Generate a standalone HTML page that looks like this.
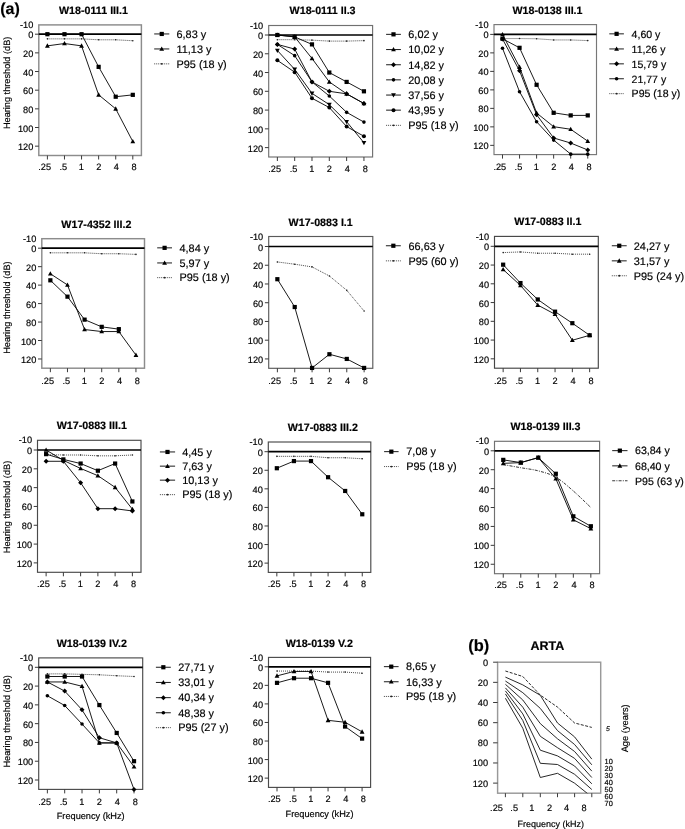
<!DOCTYPE html>
<html><head><meta charset="utf-8"><style>
html,body{margin:0;padding:0;background:#fff;}
body{width:685px;height:829px;overflow:hidden;}
svg{display:block;font-family:"Liberation Sans", sans-serif;will-change:transform;text-rendering:geometricPrecision;}
text{stroke:#000;stroke-width:0.18px;}
</style></head><body>
<svg width="685" height="829" viewBox="0 0 685 829" fill="#000">
<text x="93.5" y="14" text-anchor="middle" font-weight="bold" font-size="10.7">W18-0111 III.1</text>
<rect x="38.8" y="24.9" width="102.6" height="130.6" fill="none" stroke="#8c8c8c" stroke-width="1.45"/>
<path d="M35 34.2H38.8M35 52.86H38.8M35 71.52H38.8M35 90.18H38.8M35 108.85H38.8M35 127.51H38.8M35 146.17H38.8M47.4 155.5V159.5M64.48 155.5V159.5M81.56 155.5V159.5M98.64 155.5V159.5M115.72 155.5V159.5M132.8 155.5V159.5" stroke="#3a3a3a" stroke-width="1" fill="none"/>
<text x="33.3" y="28" text-anchor="end" font-size="9.2">-10</text>
<text x="33.3" y="38.2" text-anchor="end" font-size="9.2">0</text>
<text x="33.3" y="56.86" text-anchor="end" font-size="9.2">20</text>
<text x="33.3" y="75.52" text-anchor="end" font-size="9.2">40</text>
<text x="33.3" y="94.18" text-anchor="end" font-size="9.2">60</text>
<text x="33.3" y="112.85" text-anchor="end" font-size="9.2">80</text>
<text x="33.3" y="131.51" text-anchor="end" font-size="9.2">100</text>
<text x="33.3" y="150.17" text-anchor="end" font-size="9.2">120</text>
<text x="44.7" y="170" text-anchor="middle" font-size="9.2">.25</text>
<text x="63.38" y="170" text-anchor="middle" font-size="9.2">.5</text>
<text x="81.36" y="170" text-anchor="middle" font-size="9.2">1</text>
<text x="98.69" y="170" text-anchor="middle" font-size="9.2">2</text>
<text x="116.42" y="170" text-anchor="middle" font-size="9.2">4</text>
<text x="134.1" y="170" text-anchor="middle" font-size="9.2">8</text>
<path d="M38.8 34.2H141.4" stroke="#000" stroke-width="1.7"/>
<polyline points="47.4,38.87 64.48,38.87 81.56,38.87 98.64,39.8 115.72,39.8 132.8,40.73" fill="none" stroke="#333" stroke-width="0.9" stroke-dasharray="1 1"/>
<g fill="#222"><circle cx="47.4" cy="38.87" r="0.8"/><circle cx="64.48" cy="38.87" r="0.8"/><circle cx="81.56" cy="38.87" r="0.8"/><circle cx="98.64" cy="39.8" r="0.8"/><circle cx="115.72" cy="39.8" r="0.8"/><circle cx="132.8" cy="40.73" r="0.8"/></g>
<polyline points="47.4,34.2 64.48,34.2 81.56,34.2 98.64,66.86 115.72,96.72 132.8,94.85" fill="none" stroke="#000" stroke-width="0.9"/>
<g><rect x="45.3" y="32.1" width="4.2" height="4.2"/><rect x="62.38" y="32.1" width="4.2" height="4.2"/><rect x="79.46" y="32.1" width="4.2" height="4.2"/><rect x="96.54" y="64.76" width="4.2" height="4.2"/><rect x="113.62" y="94.62" width="4.2" height="4.2"/><rect x="130.7" y="92.75" width="4.2" height="4.2"/></g>
<polyline points="47.4,45.86 64.48,43.53 81.56,45.86 98.64,94.85 115.72,108.85 132.8,141.5" fill="none" stroke="#000" stroke-width="0.9"/>
<g><path d="M47.4 43.34L49.8 47.66L45 47.66Z"/><path d="M64.48 41.01L66.88 45.33L62.08 45.33Z"/><path d="M81.56 43.34L83.96 47.66L79.16 47.66Z"/><path d="M98.64 92.33L101.04 96.65L96.24 96.65Z"/><path d="M115.72 106.33L118.12 110.65L113.32 110.65Z"/><path d="M132.8 138.98L135.2 143.3L130.4 143.3Z"/></g>
<path d="M154.2 33.95H169.3" stroke="#000" stroke-width="0.9"/>
<rect x="159.65" y="31.85" width="4.2" height="4.2"/>
<text x="176.5" y="37.75" font-size="10.9">6,83 y</text>
<path d="M154.2 48.95H169.3" stroke="#000" stroke-width="0.9"/>
<path d="M161.75 46.43L164.15 50.75L159.35 50.75Z"/>
<text x="176.5" y="52.75" font-size="10.9">11,13 y</text>
<path d="M154.2 63.85H169.3" stroke="#333" stroke-width="0.9" stroke-dasharray="1 1"/>
<circle cx="161.75" cy="63.85" r="0.9" fill="#222"/>
<text x="176.5" y="67.65" font-size="10.9">P95 (18 y)</text>
<text transform="translate(10.3 82.9) rotate(-90)" text-anchor="middle" font-size="9.2">Hearing threshold (dB)</text>
<text x="322.6" y="14.2" text-anchor="middle" font-weight="bold" font-size="10.7">W18-0111 II.3</text>
<rect x="268.7" y="25.5" width="103.9" height="131.5" fill="none" stroke="#707070" stroke-width="1.15"/>
<path d="M264.9 35H268.7M264.9 53.77H268.7M264.9 72.54H268.7M264.9 91.31H268.7M264.9 110.08H268.7M264.9 128.85H268.7M264.9 147.62H268.7M277.36 157V161M294.68 157V161M311.99 157V161M329.31 157V161M346.63 157V161M363.94 157V161" stroke="#3a3a3a" stroke-width="1" fill="none"/>
<text x="263.2" y="28.6" text-anchor="end" font-size="9.2">-10</text>
<text x="263.2" y="39" text-anchor="end" font-size="9.2">0</text>
<text x="263.2" y="57.77" text-anchor="end" font-size="9.2">20</text>
<text x="263.2" y="76.54" text-anchor="end" font-size="9.2">40</text>
<text x="263.2" y="95.31" text-anchor="end" font-size="9.2">60</text>
<text x="263.2" y="114.08" text-anchor="end" font-size="9.2">80</text>
<text x="263.2" y="132.85" text-anchor="end" font-size="9.2">100</text>
<text x="263.2" y="151.62" text-anchor="end" font-size="9.2">120</text>
<text x="274.66" y="172" text-anchor="middle" font-size="9.2">.25</text>
<text x="293.57" y="172" text-anchor="middle" font-size="9.2">.5</text>
<text x="311.79" y="172" text-anchor="middle" font-size="9.2">1</text>
<text x="329.36" y="172" text-anchor="middle" font-size="9.2">2</text>
<text x="347.33" y="172" text-anchor="middle" font-size="9.2">4</text>
<text x="365.24" y="172" text-anchor="middle" font-size="9.2">8</text>
<path d="M268.7 35H372.6" stroke="#000" stroke-width="1.7"/>
<polyline points="277.36,39.69 294.68,39.69 311.99,40.16 329.31,41.1 346.63,41.1 363.94,40.63" fill="none" stroke="#333" stroke-width="0.9" stroke-dasharray="1 1"/>
<g fill="#222"><circle cx="277.36" cy="39.69" r="0.8"/><circle cx="294.68" cy="39.69" r="0.8"/><circle cx="311.99" cy="40.16" r="0.8"/><circle cx="329.31" cy="41.1" r="0.8"/><circle cx="346.63" cy="41.1" r="0.8"/><circle cx="363.94" cy="40.63" r="0.8"/></g>
<polyline points="277.36,35 294.68,36.88 311.99,44.38 329.31,72.54 346.63,81.92 363.94,91.31" fill="none" stroke="#000" stroke-width="0.9"/>
<g><rect x="275.26" y="32.9" width="4.2" height="4.2"/><rect x="292.57" y="34.78" width="4.2" height="4.2"/><rect x="309.89" y="42.28" width="4.2" height="4.2"/><rect x="327.21" y="70.44" width="4.2" height="4.2"/><rect x="344.53" y="79.82" width="4.2" height="4.2"/><rect x="361.84" y="89.21" width="4.2" height="4.2"/></g>
<polyline points="277.36,35 294.68,36.88 311.99,58.46 329.31,81.92 346.63,93.84 363.94,103.51" fill="none" stroke="#000" stroke-width="0.9"/>
<g><path d="M277.36 32.48L279.76 36.8L274.96 36.8Z"/><path d="M294.68 34.36L297.07 38.68L292.28 38.68Z"/><path d="M311.99 55.94L314.39 60.26L309.59 60.26Z"/><path d="M329.31 79.4L331.71 83.72L326.91 83.72Z"/><path d="M346.63 91.32L349.03 95.64L344.23 95.64Z"/><path d="M363.94 100.99L366.34 105.31L361.54 105.31Z"/></g>
<polyline points="277.36,44.38 294.68,49.08 311.99,81.92 329.31,91.31 346.63,93.84 363.94,103.51" fill="none" stroke="#000" stroke-width="0.9"/>
<g><path d="M277.36 41.88L279.86 44.38L277.36 46.88L274.86 44.38Z"/><path d="M294.68 46.58L297.18 49.08L294.68 51.58L292.18 49.08Z"/><path d="M311.99 79.42L314.49 81.92L311.99 84.42L309.49 81.92Z"/><path d="M329.31 88.81L331.81 91.31L329.31 93.81L326.81 91.31Z"/><path d="M346.63 91.34L349.13 93.84L346.63 96.34L344.13 93.84Z"/><path d="M363.94 101.01L366.44 103.51L363.94 106.01L361.44 103.51Z"/></g>
<polyline points="277.36,44.38 294.68,55.65 311.99,81.92 329.31,96 346.63,112.33 363.94,122.09" fill="none" stroke="#000" stroke-width="0.9"/>
<g><circle cx="277.36" cy="44.38" r="1.8"/><circle cx="294.68" cy="55.65" r="1.8"/><circle cx="311.99" cy="81.92" r="1.8"/><circle cx="329.31" cy="96" r="1.8"/><circle cx="346.63" cy="112.33" r="1.8"/><circle cx="363.94" cy="122.09" r="1.8"/></g>
<polyline points="277.36,50.48 294.68,69.35 311.99,93.37 329.31,104.63 346.63,121.71 363.94,142.74" fill="none" stroke="#000" stroke-width="0.9"/>
<g><path d="M277.36 53L279.76 48.68L274.96 48.68Z"/><path d="M294.68 71.87L297.07 67.55L292.28 67.55Z"/><path d="M311.99 95.89L314.39 91.57L309.59 91.57Z"/><path d="M329.31 107.15L331.71 102.83L326.91 102.83Z"/><path d="M346.63 124.23L349.03 119.91L344.23 119.91Z"/><path d="M363.94 145.26L366.34 140.94L361.54 140.94Z"/></g>
<polyline points="277.36,60.34 294.68,72.16 311.99,98.25 329.31,107.54 346.63,126.59 363.94,136.26" fill="none" stroke="#000" stroke-width="0.9"/>
<g><circle cx="277.36" cy="60.34" r="2"/><circle cx="294.68" cy="72.16" r="2"/><circle cx="311.99" cy="98.25" r="2"/><circle cx="329.31" cy="107.54" r="2"/><circle cx="346.63" cy="126.59" r="2"/><circle cx="363.94" cy="136.26" r="2"/></g>
<path d="M386.1 34.35H400.9" stroke="#000" stroke-width="0.9"/>
<rect x="391.4" y="32.25" width="4.2" height="4.2"/>
<text x="408.3" y="38.15" font-size="10.9">6,02 y</text>
<path d="M386.1 49.55H400.9" stroke="#000" stroke-width="0.9"/>
<path d="M393.5 47.03L395.9 51.35L391.1 51.35Z"/>
<text x="408.3" y="53.35" font-size="10.9">10,02 y</text>
<path d="M386.1 64.75H400.9" stroke="#000" stroke-width="0.9"/>
<path d="M393.5 62.25L396 64.75L393.5 67.25L391 64.75Z"/>
<text x="408.3" y="68.55" font-size="10.9">14,82 y</text>
<path d="M386.1 79.85H400.9" stroke="#000" stroke-width="0.9"/>
<circle cx="393.5" cy="79.85" r="1.8"/>
<text x="408.3" y="83.65" font-size="10.9">20,08 y</text>
<path d="M386.1 95.05H400.9" stroke="#000" stroke-width="0.9"/>
<path d="M393.5 97.57L395.9 93.25L391.1 93.25Z"/>
<text x="408.3" y="98.85" font-size="10.9">37,56 y</text>
<path d="M386.1 110.15H400.9" stroke="#000" stroke-width="0.9"/>
<circle cx="393.5" cy="110.15" r="2"/>
<text x="408.3" y="113.95" font-size="10.9">43,95 y</text>
<path d="M386.1 125.35H400.9" stroke="#333" stroke-width="0.9" stroke-dasharray="1 1"/>
<circle cx="393.5" cy="125.35" r="0.9" fill="#222"/>
<text x="408.3" y="129.15" font-size="10.9">P95 (18 y)</text>
<text x="547.5" y="13.8" text-anchor="middle" font-weight="bold" font-size="10.7">W18-0138 III.1</text>
<rect x="494" y="24.6" width="102.5" height="130" fill="none" stroke="#777777" stroke-width="1.15"/>
<path d="M490.2 34.4H494M490.2 52.89H494M490.2 71.38H494M490.2 89.88H494M490.2 108.37H494M490.2 126.86H494M490.2 145.35H494M502.5 154.6V158.6M519.55 154.6V158.6M536.6 154.6V158.6M553.65 154.6V158.6M570.7 154.6V158.6M587.75 154.6V158.6" stroke="#3a3a3a" stroke-width="1" fill="none"/>
<text x="488.5" y="27.7" text-anchor="end" font-size="9.2">-10</text>
<text x="488.5" y="38.4" text-anchor="end" font-size="9.2">0</text>
<text x="488.5" y="56.89" text-anchor="end" font-size="9.2">20</text>
<text x="488.5" y="75.38" text-anchor="end" font-size="9.2">40</text>
<text x="488.5" y="93.88" text-anchor="end" font-size="9.2">60</text>
<text x="488.5" y="112.37" text-anchor="end" font-size="9.2">80</text>
<text x="488.5" y="130.86" text-anchor="end" font-size="9.2">100</text>
<text x="488.5" y="149.35" text-anchor="end" font-size="9.2">120</text>
<text x="499.8" y="169.8" text-anchor="middle" font-size="9.2">.25</text>
<text x="518.45" y="169.8" text-anchor="middle" font-size="9.2">.5</text>
<text x="536.4" y="169.8" text-anchor="middle" font-size="9.2">1</text>
<text x="553.7" y="169.8" text-anchor="middle" font-size="9.2">2</text>
<text x="571.4" y="169.8" text-anchor="middle" font-size="9.2">4</text>
<text x="589.05" y="169.8" text-anchor="middle" font-size="9.2">8</text>
<path d="M494 34.4H596.5" stroke="#000" stroke-width="1.7"/>
<polyline points="502.5,38.56 519.55,38.56 536.6,38.75 553.65,39.95 570.7,39.95 587.75,40.59" fill="none" stroke="#333" stroke-width="0.9" stroke-dasharray="1 1"/>
<g fill="#222"><circle cx="502.5" cy="38.56" r="0.8"/><circle cx="519.55" cy="38.56" r="0.8"/><circle cx="536.6" cy="38.75" r="0.8"/><circle cx="553.65" cy="39.95" r="0.8"/><circle cx="570.7" cy="39.95" r="0.8"/><circle cx="587.75" cy="40.59" r="0.8"/></g>
<polyline points="502.5,38.75 519.55,47.81 536.6,84.79 553.65,112.81 570.7,115.4 587.75,115.4" fill="none" stroke="#000" stroke-width="0.9"/>
<g><rect x="500.4" y="36.65" width="4.2" height="4.2"/><rect x="517.45" y="45.71" width="4.2" height="4.2"/><rect x="534.5" y="82.69" width="4.2" height="4.2"/><rect x="551.55" y="110.71" width="4.2" height="4.2"/><rect x="568.6" y="113.3" width="4.2" height="4.2"/><rect x="585.65" y="113.3" width="4.2" height="4.2"/></g>
<polyline points="502.5,34.4 519.55,67.13 536.6,112.99 553.65,126.68 570.7,129.27 587.75,141.19" fill="none" stroke="#000" stroke-width="0.9"/>
<g><path d="M502.5 31.88L504.9 36.2L500.1 36.2Z"/><path d="M519.55 64.61L521.95 68.93L517.15 68.93Z"/><path d="M536.6 110.47L539 114.79L534.2 114.79Z"/><path d="M553.65 124.16L556.05 128.48L551.25 128.48Z"/><path d="M570.7 126.75L573.1 131.07L568.3 131.07Z"/><path d="M587.75 138.67L590.15 142.99L585.35 142.99Z"/></g>
<polyline points="502.5,39.02 519.55,70.83 536.6,114.66 553.65,137.96 570.7,143.04 587.75,149.98" fill="none" stroke="#000" stroke-width="0.9"/>
<g><path d="M502.5 36.52L505 39.02L502.5 41.52L500 39.02Z"/><path d="M519.55 68.33L522.05 70.83L519.55 73.33L517.05 70.83Z"/><path d="M536.6 112.16L539.1 114.66L536.6 117.16L534.1 114.66Z"/><path d="M553.65 135.46L556.15 137.96L553.65 140.46L551.15 137.96Z"/><path d="M570.7 140.54L573.2 143.04L570.7 145.54L568.2 143.04Z"/><path d="M587.75 147.48L590.25 149.98L587.75 152.48L585.25 149.98Z"/></g>
<polyline points="502.5,48.27 519.55,91.73 536.6,121.78 553.65,140.08 570.7,154.14 587.75,154.14" fill="none" stroke="#000" stroke-width="0.9"/>
<g><circle cx="502.5" cy="48.27" r="1.8"/><circle cx="519.55" cy="91.73" r="1.8"/><circle cx="536.6" cy="121.78" r="1.8"/><circle cx="553.65" cy="140.08" r="1.8"/><circle cx="570.7" cy="154.14" r="1.8"/><circle cx="587.75" cy="154.14" r="1.8"/></g>
<path d="M609.3 33.85H623.9" stroke="#000" stroke-width="0.9"/>
<rect x="614.5" y="31.75" width="4.2" height="4.2"/>
<text x="631.6" y="37.65" font-size="10.55">4,60 y</text>
<path d="M609.3 48.95H623.9" stroke="#000" stroke-width="0.9"/>
<path d="M616.6 46.43L619 50.75L614.2 50.75Z"/>
<text x="631.6" y="52.75" font-size="10.55">11,26 y</text>
<path d="M609.3 63.85H623.9" stroke="#000" stroke-width="0.9"/>
<path d="M616.6 61.35L619.1 63.85L616.6 66.35L614.1 63.85Z"/>
<text x="631.6" y="67.65" font-size="10.55">15,79 y</text>
<path d="M609.3 78.75H623.9" stroke="#000" stroke-width="0.9"/>
<circle cx="616.6" cy="78.75" r="1.8"/>
<text x="631.6" y="82.55" font-size="10.55">21,77 y</text>
<path d="M609.3 93.65H623.9" stroke="#333" stroke-width="0.9" stroke-dasharray="1 1"/>
<circle cx="616.6" cy="93.65" r="0.9" fill="#222"/>
<text x="631.6" y="97.45" font-size="10.55">P95 (18 y)</text>
<text x="96.4" y="228.2" text-anchor="middle" font-weight="bold" font-size="10.7">W17-4352 III.2</text>
<rect x="41.8" y="238.7" width="102.7" height="129.5" fill="none" stroke="#8c8c8c" stroke-width="1.45"/>
<path d="M38 248.2H41.8M38 266.66H41.8M38 285.12H41.8M38 303.58H41.8M38 322.05H41.8M38 340.51H41.8M38 358.97H41.8M50.36 368.2V372.2M67.47 368.2V372.2M84.59 368.2V372.2M101.71 368.2V372.2M118.83 368.2V372.2M135.94 368.2V372.2" stroke="#3a3a3a" stroke-width="1" fill="none"/>
<text x="36.3" y="241.8" text-anchor="end" font-size="9.2">-10</text>
<text x="36.3" y="252.2" text-anchor="end" font-size="9.2">0</text>
<text x="36.3" y="270.66" text-anchor="end" font-size="9.2">20</text>
<text x="36.3" y="289.12" text-anchor="end" font-size="9.2">40</text>
<text x="36.3" y="307.58" text-anchor="end" font-size="9.2">60</text>
<text x="36.3" y="326.05" text-anchor="end" font-size="9.2">80</text>
<text x="36.3" y="344.51" text-anchor="end" font-size="9.2">100</text>
<text x="36.3" y="362.97" text-anchor="end" font-size="9.2">120</text>
<text x="47.66" y="383.7" text-anchor="middle" font-size="9.2">.25</text>
<text x="66.38" y="383.7" text-anchor="middle" font-size="9.2">.5</text>
<text x="84.39" y="383.7" text-anchor="middle" font-size="9.2">1</text>
<text x="101.76" y="383.7" text-anchor="middle" font-size="9.2">2</text>
<text x="119.53" y="383.7" text-anchor="middle" font-size="9.2">4</text>
<text x="137.24" y="383.7" text-anchor="middle" font-size="9.2">8</text>
<path d="M41.8 248.2H144.5" stroke="#000" stroke-width="1.7"/>
<polyline points="50.36,252.82 67.47,252.82 84.59,252.82 101.71,253.74 118.83,253.74 135.94,254.38" fill="none" stroke="#333" stroke-width="0.9" stroke-dasharray="1 1"/>
<g fill="#222"><circle cx="50.36" cy="252.82" r="0.8"/><circle cx="67.47" cy="252.82" r="0.8"/><circle cx="84.59" cy="252.82" r="0.8"/><circle cx="101.71" cy="253.74" r="0.8"/><circle cx="118.83" cy="253.74" r="0.8"/><circle cx="135.94" cy="254.38" r="0.8"/></g>
<polyline points="50.36,280.32 67.47,296.66 84.59,319.65 101.71,326.85 118.83,329.15" fill="none" stroke="#000" stroke-width="0.9"/>
<g><rect x="48.26" y="278.22" width="4.2" height="4.2"/><rect x="65.38" y="294.56" width="4.2" height="4.2"/><rect x="82.49" y="317.55" width="4.2" height="4.2"/><rect x="99.61" y="324.75" width="4.2" height="4.2"/><rect x="116.73" y="327.05" width="4.2" height="4.2"/></g>
<polyline points="50.36,273.77 67.47,284.94 84.59,329.52 101.71,331.55 118.83,331.55 135.94,355.09" fill="none" stroke="#000" stroke-width="0.9"/>
<g><path d="M50.36 271.25L52.76 275.57L47.96 275.57Z"/><path d="M67.47 282.42L69.88 286.74L65.07 286.74Z"/><path d="M84.59 327L86.99 331.32L82.19 331.32Z"/><path d="M101.71 329.03L104.11 333.35L99.31 333.35Z"/><path d="M118.83 329.03L121.23 333.35L116.42 333.35Z"/><path d="M135.94 352.57L138.34 356.89L133.54 356.89Z"/></g>
<path d="M157.2 247.85H172" stroke="#000" stroke-width="0.9"/>
<rect x="162.5" y="245.75" width="4.2" height="4.2"/>
<text x="179.5" y="251.65" font-size="10.9">4,84 y</text>
<path d="M157.2 262.95H172" stroke="#000" stroke-width="0.9"/>
<path d="M164.6 260.43L167 264.75L162.2 264.75Z"/>
<text x="179.5" y="266.75" font-size="10.9">5,97 y</text>
<path d="M157.2 277.65H172" stroke="#333" stroke-width="0.9" stroke-dasharray="1 1"/>
<circle cx="164.6" cy="277.65" r="0.9" fill="#222"/>
<text x="179.5" y="281.45" font-size="10.9">P95 (18 y)</text>
<text transform="translate(10.3 307.6) rotate(-90)" text-anchor="middle" font-size="9.2">Hearing threshold (dB)</text>
<text x="320.7" y="225.8" text-anchor="middle" font-weight="bold" font-size="10.7">W17-0883 I.1</text>
<rect x="268.7" y="236.5" width="104.1" height="131.8" fill="none" stroke="#5a5a5a" stroke-width="1.15"/>
<path d="M264.9 246.5H268.7M264.9 265.24H268.7M264.9 283.98H268.7M264.9 302.72H268.7M264.9 321.45H268.7M264.9 340.19H268.7M264.9 358.93H268.7M277.38 368.3V372.3M294.73 368.3V372.3M312.07 368.3V372.3M329.43 368.3V372.3M346.78 368.3V372.3M364.12 368.3V372.3" stroke="#3a3a3a" stroke-width="1" fill="none"/>
<text x="263.2" y="239.6" text-anchor="end" font-size="9.2">-10</text>
<text x="263.2" y="250.5" text-anchor="end" font-size="9.2">0</text>
<text x="263.2" y="269.24" text-anchor="end" font-size="9.2">20</text>
<text x="263.2" y="287.98" text-anchor="end" font-size="9.2">40</text>
<text x="263.2" y="306.72" text-anchor="end" font-size="9.2">60</text>
<text x="263.2" y="325.45" text-anchor="end" font-size="9.2">80</text>
<text x="263.2" y="344.19" text-anchor="end" font-size="9.2">100</text>
<text x="263.2" y="362.93" text-anchor="end" font-size="9.2">120</text>
<text x="274.68" y="383.5" text-anchor="middle" font-size="9.2">.25</text>
<text x="293.62" y="383.5" text-anchor="middle" font-size="9.2">.5</text>
<text x="311.88" y="383.5" text-anchor="middle" font-size="9.2">1</text>
<text x="329.48" y="383.5" text-anchor="middle" font-size="9.2">2</text>
<text x="347.48" y="383.5" text-anchor="middle" font-size="9.2">4</text>
<text x="365.43" y="383.5" text-anchor="middle" font-size="9.2">8</text>
<path d="M268.7 246.5H372.8" stroke="#000" stroke-width="1.7"/>
<polyline points="277.38,261.96 294.73,264.21 312.07,266.92 329.43,276.01 346.78,290.35 364.12,311.05" fill="none" stroke="#333" stroke-width="0.9" stroke-dasharray="1 1"/>
<g fill="#222"><circle cx="277.38" cy="261.96" r="0.8"/><circle cx="294.73" cy="264.21" r="0.8"/><circle cx="312.07" cy="266.92" r="0.8"/><circle cx="329.43" cy="276.01" r="0.8"/><circle cx="346.78" cy="290.35" r="0.8"/><circle cx="364.12" cy="311.05" r="0.8"/></g>
<polyline points="277.38,279.2 294.73,307.03 312.07,367.93 329.43,354.25 346.78,358.93 364.12,367.93" fill="none" stroke="#000" stroke-width="0.9"/>
<g><rect x="275.27" y="277.1" width="4.2" height="4.2"/><rect x="292.62" y="304.93" width="4.2" height="4.2"/><rect x="309.97" y="365.83" width="4.2" height="4.2"/><rect x="327.32" y="352.15" width="4.2" height="4.2"/><rect x="344.68" y="356.83" width="4.2" height="4.2"/><rect x="362.02" y="365.83" width="4.2" height="4.2"/></g>
<path d="M385.9 245.75H400.8" stroke="#000" stroke-width="0.9"/>
<rect x="391.25" y="243.65" width="4.2" height="4.2"/>
<text x="408.5" y="249.55" font-size="10.9">66,63 y</text>
<path d="M385.9 260.85H400.8" stroke="#333" stroke-width="0.9" stroke-dasharray="1 1"/>
<circle cx="393.35" cy="260.85" r="0.9" fill="#222"/>
<text x="408.5" y="264.65" font-size="10.9">P95 (60 y)</text>
<text x="547.9" y="225.3" text-anchor="middle" font-weight="bold" font-size="10.7">W17-0883 II.1</text>
<rect x="494.5" y="236.4" width="103.8" height="131.8" fill="none" stroke="#454545" stroke-width="1.15"/>
<path d="M490.7 246.3H494.5M490.7 265.05H494.5M490.7 283.81H494.5M490.7 302.56H494.5M490.7 321.32H494.5M490.7 340.07H494.5M490.7 358.82H494.5M503.15 368.2V372.2M520.45 368.2V372.2M537.75 368.2V372.2M555.05 368.2V372.2M572.35 368.2V372.2M589.65 368.2V372.2" stroke="#3a3a3a" stroke-width="1" fill="none"/>
<text x="489" y="239.5" text-anchor="end" font-size="9.2">-10</text>
<text x="489" y="250.3" text-anchor="end" font-size="9.2">0</text>
<text x="489" y="269.05" text-anchor="end" font-size="9.2">20</text>
<text x="489" y="287.81" text-anchor="end" font-size="9.2">40</text>
<text x="489" y="306.56" text-anchor="end" font-size="9.2">60</text>
<text x="489" y="325.32" text-anchor="end" font-size="9.2">80</text>
<text x="489" y="344.07" text-anchor="end" font-size="9.2">100</text>
<text x="489" y="362.82" text-anchor="end" font-size="9.2">120</text>
<text x="500.45" y="383.7" text-anchor="middle" font-size="9.2">.25</text>
<text x="519.35" y="383.7" text-anchor="middle" font-size="9.2">.5</text>
<text x="537.55" y="383.7" text-anchor="middle" font-size="9.2">1</text>
<text x="555.1" y="383.7" text-anchor="middle" font-size="9.2">2</text>
<text x="573.05" y="383.7" text-anchor="middle" font-size="9.2">4</text>
<text x="590.95" y="383.7" text-anchor="middle" font-size="9.2">8</text>
<path d="M494.5 246.3H598.3" stroke="#000" stroke-width="1.7"/>
<polyline points="503.15,252.58 520.45,251.93 537.75,253.24 555.05,253.24 572.35,254.18 589.65,254.18" fill="none" stroke="#333" stroke-width="0.9" stroke-dasharray="1 1"/>
<g fill="#222"><circle cx="503.15" cy="252.58" r="0.8"/><circle cx="520.45" cy="251.93" r="0.8"/><circle cx="537.75" cy="253.24" r="0.8"/><circle cx="555.05" cy="253.24" r="0.8"/><circle cx="572.35" cy="254.18" r="0.8"/><circle cx="589.65" cy="254.18" r="0.8"/></g>
<polyline points="503.15,264.68 520.45,283.06 537.75,299.47 555.05,311.66 572.35,323.19 589.65,335.29" fill="none" stroke="#000" stroke-width="0.9"/>
<g><rect x="501.05" y="262.58" width="4.2" height="4.2"/><rect x="518.35" y="280.96" width="4.2" height="4.2"/><rect x="535.65" y="297.37" width="4.2" height="4.2"/><rect x="552.95" y="309.56" width="4.2" height="4.2"/><rect x="570.25" y="321.09" width="4.2" height="4.2"/><rect x="587.55" y="333.19" width="4.2" height="4.2"/></g>
<polyline points="503.15,269.55 520.45,285.4 537.75,305.09 555.05,314.28 572.35,340.26 589.65,335.29" fill="none" stroke="#000" stroke-width="0.9"/>
<g><path d="M503.15 267.03L505.55 271.35L500.75 271.35Z"/><path d="M520.45 282.88L522.85 287.2L518.05 287.2Z"/><path d="M537.75 302.57L540.15 306.89L535.35 306.89Z"/><path d="M555.05 311.76L557.45 316.08L552.65 316.08Z"/><path d="M572.35 337.74L574.75 342.06L569.95 342.06Z"/><path d="M589.65 332.77L592.05 337.09L587.25 337.09Z"/></g>
<path d="M611.8 245.75H626.7" stroke="#000" stroke-width="0.9"/>
<rect x="617.15" y="243.65" width="4.2" height="4.2"/>
<text x="633.8" y="249.55" font-size="10.9">24,27 y</text>
<path d="M611.8 260.85H626.7" stroke="#000" stroke-width="0.9"/>
<path d="M619.25 258.33L621.65 262.65L616.85 262.65Z"/>
<text x="633.8" y="264.65" font-size="10.9">31,57 y</text>
<path d="M611.8 275.75H626.7" stroke="#333" stroke-width="0.9" stroke-dasharray="1 1"/>
<circle cx="619.25" cy="275.75" r="0.9" fill="#222"/>
<text x="633.8" y="279.55" font-size="10.9">P95 (24 y)</text>
<text x="91.8" y="429.2" text-anchor="middle" font-weight="bold" font-size="10.7">W17-0883 III.1</text>
<rect x="37.5" y="440.3" width="103.5" height="132" fill="none" stroke="#4a4a4a" stroke-width="1.15"/>
<path d="M33.7 450H37.5M33.7 468.82H37.5M33.7 487.63H37.5M33.7 506.45H37.5M33.7 525.26H37.5M33.7 544.08H37.5M33.7 562.89H37.5M46.12 572.3V576.3M63.38 572.3V576.3M80.62 572.3V576.3M97.88 572.3V576.3M115.12 572.3V576.3M132.38 572.3V576.3" stroke="#3a3a3a" stroke-width="1" fill="none"/>
<text x="32" y="443.4" text-anchor="end" font-size="9.2">-10</text>
<text x="32" y="454" text-anchor="end" font-size="9.2">0</text>
<text x="32" y="472.82" text-anchor="end" font-size="9.2">20</text>
<text x="32" y="491.63" text-anchor="end" font-size="9.2">40</text>
<text x="32" y="510.45" text-anchor="end" font-size="9.2">60</text>
<text x="32" y="529.26" text-anchor="end" font-size="9.2">80</text>
<text x="32" y="548.08" text-anchor="end" font-size="9.2">100</text>
<text x="32" y="566.89" text-anchor="end" font-size="9.2">120</text>
<text x="43.42" y="586.9" text-anchor="middle" font-size="9.2">.25</text>
<text x="62.27" y="586.9" text-anchor="middle" font-size="9.2">.5</text>
<text x="80.42" y="586.9" text-anchor="middle" font-size="9.2">1</text>
<text x="97.92" y="586.9" text-anchor="middle" font-size="9.2">2</text>
<text x="115.83" y="586.9" text-anchor="middle" font-size="9.2">4</text>
<text x="133.68" y="586.9" text-anchor="middle" font-size="9.2">8</text>
<path d="M37.5 450H141" stroke="#000" stroke-width="1.7"/>
<polyline points="46.12,454.7 63.38,454.99 80.62,454.99 97.88,455.83 115.12,455.83 132.38,454.99" fill="none" stroke="#333" stroke-width="0.9" stroke-dasharray="1 1"/>
<g fill="#222"><circle cx="46.12" cy="454.7" r="0.8"/><circle cx="63.38" cy="454.99" r="0.8"/><circle cx="80.62" cy="454.99" r="0.8"/><circle cx="97.88" cy="455.83" r="0.8"/><circle cx="115.12" cy="455.83" r="0.8"/><circle cx="132.38" cy="454.99" r="0.8"/></g>
<polyline points="46.12,454.14 63.38,459.41 80.62,463.55 97.88,470.7 115.12,463.55 132.38,501.46" fill="none" stroke="#000" stroke-width="0.9"/>
<g><rect x="44.02" y="452.04" width="4.2" height="4.2"/><rect x="61.27" y="457.31" width="4.2" height="4.2"/><rect x="78.53" y="461.45" width="4.2" height="4.2"/><rect x="95.78" y="468.6" width="4.2" height="4.2"/><rect x="113.03" y="461.45" width="4.2" height="4.2"/><rect x="130.28" y="499.36" width="4.2" height="4.2"/></g>
<polyline points="46.12,450 63.38,460.35 80.62,468.44 97.88,475.68 115.12,487.35 132.38,509.17" fill="none" stroke="#000" stroke-width="0.9"/>
<g><path d="M46.12 447.48L48.52 451.8L43.73 451.8Z"/><path d="M63.38 457.83L65.78 462.15L60.98 462.15Z"/><path d="M80.62 465.92L83.03 470.24L78.22 470.24Z"/><path d="M97.88 473.16L100.28 477.48L95.47 477.48Z"/><path d="M115.12 484.83L117.53 489.15L112.72 489.15Z"/><path d="M132.38 506.65L134.78 510.97L129.97 510.97Z"/></g>
<polyline points="46.12,461.29 63.38,461.29 80.62,482.74 97.88,508.7 115.12,508.7 132.38,510.96" fill="none" stroke="#000" stroke-width="0.9"/>
<g><path d="M46.12 458.79L48.62 461.29L46.12 463.79L43.62 461.29Z"/><path d="M63.38 458.79L65.88 461.29L63.38 463.79L60.88 461.29Z"/><path d="M80.62 480.24L83.12 482.74L80.62 485.24L78.12 482.74Z"/><path d="M97.88 506.2L100.38 508.7L97.88 511.2L95.38 508.7Z"/><path d="M115.12 506.2L117.62 508.7L115.12 511.2L112.62 508.7Z"/><path d="M132.38 508.46L134.88 510.96L132.38 513.46L129.88 510.96Z"/></g>
<path d="M159.9 451.95H175.1" stroke="#000" stroke-width="0.9"/>
<rect x="165.4" y="449.85" width="4.2" height="4.2"/>
<text x="182.2" y="455.75" font-size="10.9">4,45 y</text>
<path d="M159.9 466.15H175.1" stroke="#000" stroke-width="0.9"/>
<path d="M167.5 463.63L169.9 467.95L165.1 467.95Z"/>
<text x="182.2" y="469.95" font-size="10.9">7,63 y</text>
<path d="M159.9 480.15H175.1" stroke="#000" stroke-width="0.9"/>
<path d="M167.5 477.65L170 480.15L167.5 482.65L165 480.15Z"/>
<text x="182.2" y="483.95" font-size="10.9">10,13 y</text>
<path d="M159.9 494.65H175.1" stroke="#333" stroke-width="0.9" stroke-dasharray="1 1"/>
<circle cx="167.5" cy="494.65" r="0.9" fill="#222"/>
<text x="182.2" y="498.45" font-size="10.9">P95 (18 y)</text>
<text transform="translate(10.3 507) rotate(-90)" text-anchor="middle" font-size="9.2">Hearing threshold (dB)</text>
<text x="322.8" y="431.4" text-anchor="middle" font-weight="bold" font-size="10.7">W17-0883 III.2</text>
<rect x="268.3" y="442" width="102.5" height="130.4" fill="none" stroke="#4a4a4a" stroke-width="1.15"/>
<path d="M264.5 451.7H268.3M264.5 470.27H268.3M264.5 488.84H268.3M264.5 507.41H268.3M264.5 525.98H268.3M264.5 544.55H268.3M264.5 563.12H268.3M276.84 572.4V576.4M293.93 572.4V576.4M311.01 572.4V576.4M328.09 572.4V576.4M345.18 572.4V576.4M362.26 572.4V576.4" stroke="#3a3a3a" stroke-width="1" fill="none"/>
<text x="262.8" y="445.1" text-anchor="end" font-size="9.2">-10</text>
<text x="262.8" y="455.7" text-anchor="end" font-size="9.2">0</text>
<text x="262.8" y="474.27" text-anchor="end" font-size="9.2">20</text>
<text x="262.8" y="492.84" text-anchor="end" font-size="9.2">40</text>
<text x="262.8" y="511.41" text-anchor="end" font-size="9.2">60</text>
<text x="262.8" y="529.98" text-anchor="end" font-size="9.2">80</text>
<text x="262.8" y="548.55" text-anchor="end" font-size="9.2">100</text>
<text x="262.8" y="567.12" text-anchor="end" font-size="9.2">120</text>
<text x="274.14" y="586.9" text-anchor="middle" font-size="9.2">.25</text>
<text x="292.82" y="586.9" text-anchor="middle" font-size="9.2">.5</text>
<text x="310.81" y="586.9" text-anchor="middle" font-size="9.2">1</text>
<text x="328.14" y="586.9" text-anchor="middle" font-size="9.2">2</text>
<text x="345.88" y="586.9" text-anchor="middle" font-size="9.2">4</text>
<text x="363.56" y="586.9" text-anchor="middle" font-size="9.2">8</text>
<path d="M268.3 451.7H370.8" stroke="#000" stroke-width="1.7"/>
<polyline points="276.84,456.34 293.93,456.34 311.01,456.34 328.09,457.74 345.18,457.74 362.26,458.76" fill="none" stroke="#333" stroke-width="0.9" stroke-dasharray="1 1"/>
<g fill="#222"><circle cx="276.84" cy="456.34" r="0.8"/><circle cx="293.93" cy="456.34" r="0.8"/><circle cx="311.01" cy="456.34" r="0.8"/><circle cx="328.09" cy="457.74" r="0.8"/><circle cx="345.18" cy="457.74" r="0.8"/><circle cx="362.26" cy="458.76" r="0.8"/></g>
<polyline points="276.84,468.23 293.93,461.08 311.01,461.08 328.09,477.23 345.18,490.97 362.26,514.28" fill="none" stroke="#000" stroke-width="0.9"/>
<g><rect x="274.74" y="466.13" width="4.2" height="4.2"/><rect x="291.82" y="458.98" width="4.2" height="4.2"/><rect x="308.91" y="458.98" width="4.2" height="4.2"/><rect x="325.99" y="475.13" width="4.2" height="4.2"/><rect x="343.07" y="488.87" width="4.2" height="4.2"/><rect x="360.16" y="512.18" width="4.2" height="4.2"/></g>
<path d="M384.1 451.65H398.6" stroke="#000" stroke-width="0.9"/>
<rect x="389.25" y="449.55" width="4.2" height="4.2"/>
<text x="406.3" y="455.45" font-size="10.9">7,08 y</text>
<path d="M384.1 466.55H398.6" stroke="#333" stroke-width="0.9" stroke-dasharray="1 1"/>
<circle cx="391.35" cy="466.55" r="0.9" fill="#222"/>
<text x="406.3" y="470.35" font-size="10.9">P95 (18 y)</text>
<text x="545.5" y="430.3" text-anchor="middle" font-weight="bold" font-size="10.7">W18-0139 III.3</text>
<rect x="494.5" y="441.3" width="105.1" height="132.4" fill="none" stroke="#707070" stroke-width="1.15"/>
<path d="M490.7 450.8H494.5M490.7 469.71H494.5M490.7 488.62H494.5M490.7 507.52H494.5M490.7 526.43H494.5M490.7 545.34H494.5M490.7 564.25H494.5M503.26 573.7V577.7M520.77 573.7V577.7M538.29 573.7V577.7M555.81 573.7V577.7M573.33 573.7V577.7M590.84 573.7V577.7" stroke="#3a3a3a" stroke-width="1" fill="none"/>
<text x="489" y="444.4" text-anchor="end" font-size="9.2">-10</text>
<text x="489" y="454.8" text-anchor="end" font-size="9.2">0</text>
<text x="489" y="473.71" text-anchor="end" font-size="9.2">20</text>
<text x="489" y="492.62" text-anchor="end" font-size="9.2">40</text>
<text x="489" y="511.52" text-anchor="end" font-size="9.2">60</text>
<text x="489" y="530.43" text-anchor="end" font-size="9.2">80</text>
<text x="489" y="549.34" text-anchor="end" font-size="9.2">100</text>
<text x="489" y="568.25" text-anchor="end" font-size="9.2">120</text>
<text x="500.56" y="588.4" text-anchor="middle" font-size="9.2">.25</text>
<text x="519.67" y="588.4" text-anchor="middle" font-size="9.2">.5</text>
<text x="538.09" y="588.4" text-anchor="middle" font-size="9.2">1</text>
<text x="555.86" y="588.4" text-anchor="middle" font-size="9.2">2</text>
<text x="574.03" y="588.4" text-anchor="middle" font-size="9.2">4</text>
<text x="592.14" y="588.4" text-anchor="middle" font-size="9.2">8</text>
<path d="M494.5 450.8H599.6" stroke="#000" stroke-width="1.7"/>
<path d="M503.26 464.6C506.18 465.12 514.94 466.68 520.77 467.72C526.61 468.76 532.45 469.27 538.29 470.84C544.13 472.42 549.97 473.82 555.81 477.18C561.65 480.53 567.49 485.92 573.33 490.98C579.16 496.04 587.92 504.77 590.84 507.52" fill="none" stroke="#222" stroke-width="0.9" stroke-dasharray="3 1.2 1 1.2"/>
<polyline points="503.26,459.88 520.77,462.62 538.29,457.61 555.81,473.77 573.33,516.32 590.84,526.24" fill="none" stroke="#000" stroke-width="0.9"/>
<g><rect x="501.16" y="457.78" width="4.2" height="4.2"/><rect x="518.67" y="460.52" width="4.2" height="4.2"/><rect x="536.19" y="455.51" width="4.2" height="4.2"/><rect x="553.71" y="471.67" width="4.2" height="4.2"/><rect x="571.23" y="514.22" width="4.2" height="4.2"/><rect x="588.74" y="524.14" width="4.2" height="4.2"/></g>
<polyline points="503.26,463.37 520.77,462.62 538.29,457.61 555.81,478.69 573.33,519.81 590.84,528.61" fill="none" stroke="#000" stroke-width="0.9"/>
<g><path d="M503.26 460.85L505.66 465.17L500.86 465.17Z"/><path d="M520.77 460.1L523.17 464.42L518.38 464.42Z"/><path d="M538.29 455.09L540.69 459.41L535.89 459.41Z"/><path d="M555.81 476.17L558.21 480.49L553.41 480.49Z"/><path d="M573.33 517.29L575.73 521.61L570.93 521.61Z"/><path d="M590.84 526.09L593.24 530.41L588.44 530.41Z"/></g>
<path d="M612.2 450.65H627.5" stroke="#000" stroke-width="0.9"/>
<rect x="617.75" y="448.55" width="4.2" height="4.2"/>
<text x="635" y="454.45" font-size="10.6">63,84 y</text>
<path d="M612.2 465.85H627.5" stroke="#000" stroke-width="0.9"/>
<path d="M619.85 463.33L622.25 467.65L617.45 467.65Z"/>
<text x="635" y="469.65" font-size="10.6">68,40 y</text>
<path d="M612.2 480.75H627.5" stroke="#222" stroke-width="0.9" stroke-dasharray="3 1.2 1 1.2"/>
<text x="635" y="484.55" font-size="10.6">P95 (63 y)</text>
<text x="91.85" y="647.1" text-anchor="middle" font-weight="bold" font-size="10.7">W18-0139 IV.2</text>
<rect x="38.7" y="657.9" width="104" height="131.5" fill="none" stroke="#4a4a4a" stroke-width="1.15"/>
<path d="M34.9 667.3H38.7M34.9 686.08H38.7M34.9 704.87H38.7M34.9 723.65H38.7M34.9 742.44H38.7M34.9 761.22H38.7M34.9 780.01H38.7M47.37 789.4V793.4M64.7 789.4V793.4M82.03 789.4V793.4M99.37 789.4V793.4M116.7 789.4V793.4M134.03 789.4V793.4" stroke="#3a3a3a" stroke-width="1" fill="none"/>
<text x="33.2" y="661" text-anchor="end" font-size="9.2">-10</text>
<text x="33.2" y="671.3" text-anchor="end" font-size="9.2">0</text>
<text x="33.2" y="690.08" text-anchor="end" font-size="9.2">20</text>
<text x="33.2" y="708.87" text-anchor="end" font-size="9.2">40</text>
<text x="33.2" y="727.65" text-anchor="end" font-size="9.2">60</text>
<text x="33.2" y="746.44" text-anchor="end" font-size="9.2">80</text>
<text x="33.2" y="765.22" text-anchor="end" font-size="9.2">100</text>
<text x="33.2" y="784.01" text-anchor="end" font-size="9.2">120</text>
<text x="44.67" y="804.6" text-anchor="middle" font-size="9.2">.25</text>
<text x="63.6" y="804.6" text-anchor="middle" font-size="9.2">.5</text>
<text x="81.83" y="804.6" text-anchor="middle" font-size="9.2">1</text>
<text x="99.42" y="804.6" text-anchor="middle" font-size="9.2">2</text>
<text x="117.4" y="804.6" text-anchor="middle" font-size="9.2">4</text>
<text x="135.33" y="804.6" text-anchor="middle" font-size="9.2">8</text>
<path d="M38.7 667.3H142.7" stroke="#000" stroke-width="1.7"/>
<polyline points="47.37,673.87 64.7,673.87 82.03,674.34 99.37,674.81 116.7,675.75 134.03,676.5" fill="none" stroke="#333" stroke-width="0.9" stroke-dasharray="1 1"/>
<g fill="#222"><circle cx="47.37" cy="673.87" r="0.8"/><circle cx="64.7" cy="673.87" r="0.8"/><circle cx="82.03" cy="674.34" r="0.8"/><circle cx="99.37" cy="674.81" r="0.8"/><circle cx="116.7" cy="675.75" r="0.8"/><circle cx="134.03" cy="676.5" r="0.8"/></g>
<polyline points="47.37,676.5 64.7,676.5 82.03,676.5 99.37,705.06 116.7,732.95 134.03,761.22" fill="none" stroke="#000" stroke-width="0.9"/>
<g><rect x="45.27" y="674.4" width="4.2" height="4.2"/><rect x="62.6" y="674.4" width="4.2" height="4.2"/><rect x="79.93" y="674.4" width="4.2" height="4.2"/><rect x="97.27" y="702.96" width="4.2" height="4.2"/><rect x="114.6" y="730.85" width="4.2" height="4.2"/><rect x="131.93" y="759.12" width="4.2" height="4.2"/></g>
<polyline points="47.37,681.95 64.7,681.95 82.03,686.27 99.37,742.91 116.7,742.91 134.03,766.76" fill="none" stroke="#000" stroke-width="0.9"/>
<g><path d="M47.37 679.43L49.77 683.75L44.97 683.75Z"/><path d="M64.7 679.43L67.1 683.75L62.3 683.75Z"/><path d="M82.03 683.75L84.43 688.07L79.63 688.07Z"/><path d="M99.37 740.39L101.77 744.71L96.97 744.71Z"/><path d="M116.7 740.39L119.1 744.71L114.3 744.71Z"/><path d="M134.03 764.24L136.43 768.56L131.63 768.56Z"/></g>
<polyline points="47.37,681.95 64.7,691.06 82.03,709.85 99.37,737.74 116.7,742.91 134.03,789.4" fill="none" stroke="#000" stroke-width="0.9"/>
<g><path d="M47.37 679.45L49.87 681.95L47.37 684.45L44.87 681.95Z"/><path d="M64.7 688.56L67.2 691.06L64.7 693.56L62.2 691.06Z"/><path d="M82.03 707.35L84.53 709.85L82.03 712.35L79.53 709.85Z"/><path d="M99.37 735.24L101.87 737.74L99.37 740.24L96.87 737.74Z"/><path d="M116.7 740.41L119.2 742.91L116.7 745.41L114.2 742.91Z"/><path d="M134.03 786.9L136.53 789.4L134.03 791.9L131.53 789.4Z"/></g>
<polyline points="47.37,695.76 64.7,705.53 82.03,724.03 99.37,742.91 116.7,742.91" fill="none" stroke="#000" stroke-width="0.9"/>
<g><circle cx="47.37" cy="695.76" r="1.8"/><circle cx="64.7" cy="705.53" r="1.8"/><circle cx="82.03" cy="724.03" r="1.8"/><circle cx="99.37" cy="742.91" r="1.8"/><circle cx="116.7" cy="742.91" r="1.8"/></g>
<path d="M155.9 667.25H170.8" stroke="#000" stroke-width="0.9"/>
<rect x="161.25" y="665.15" width="4.2" height="4.2"/>
<text x="178.3" y="671.05" font-size="10.9">27,71 y</text>
<path d="M155.9 682.45H170.8" stroke="#000" stroke-width="0.9"/>
<path d="M163.35 679.93L165.75 684.25L160.95 684.25Z"/>
<text x="178.3" y="686.25" font-size="10.9">33,01 y</text>
<path d="M155.9 697.65H170.8" stroke="#000" stroke-width="0.9"/>
<path d="M163.35 695.15L165.85 697.65L163.35 700.15L160.85 697.65Z"/>
<text x="178.3" y="701.45" font-size="10.9">40,34 y</text>
<path d="M155.9 712.75H170.8" stroke="#000" stroke-width="0.9"/>
<circle cx="163.35" cy="712.75" r="1.8"/>
<text x="178.3" y="716.55" font-size="10.9">48,38 y</text>
<path d="M155.9 727.65H170.8" stroke="#333" stroke-width="0.9" stroke-dasharray="1 1"/>
<circle cx="163.35" cy="727.65" r="0.9" fill="#222"/>
<text x="178.3" y="731.45" font-size="10.9">P95 (27 y)</text>
<text transform="translate(10.3 721.3) rotate(-90)" text-anchor="middle" font-size="9.2">Hearing threshold (dB)</text>
<text x="90.7" y="819" text-anchor="middle" font-size="9.2">Frequency (kHz)</text>
<text x="319.3" y="647.1" text-anchor="middle" font-weight="bold" font-size="10.7">W18-0139 V.2</text>
<rect x="268.5" y="657.4" width="102.1" height="130" fill="none" stroke="#4a4a4a" stroke-width="1.15"/>
<path d="M264.7 666.8H268.5M264.7 685.35H268.5M264.7 703.91H268.5M264.7 722.46H268.5M264.7 741.02H268.5M264.7 759.57H268.5M264.7 778.12H268.5M277.01 787.4V791.4M294.02 787.4V791.4M311.04 787.4V791.4M328.06 787.4V791.4M345.07 787.4V791.4M362.09 787.4V791.4" stroke="#3a3a3a" stroke-width="1" fill="none"/>
<text x="263" y="660.5" text-anchor="end" font-size="9.2">-10</text>
<text x="263" y="670.8" text-anchor="end" font-size="9.2">0</text>
<text x="263" y="689.35" text-anchor="end" font-size="9.2">20</text>
<text x="263" y="707.91" text-anchor="end" font-size="9.2">40</text>
<text x="263" y="726.46" text-anchor="end" font-size="9.2">60</text>
<text x="263" y="745.02" text-anchor="end" font-size="9.2">80</text>
<text x="263" y="763.57" text-anchor="end" font-size="9.2">100</text>
<text x="263" y="782.12" text-anchor="end" font-size="9.2">120</text>
<text x="274.31" y="801.8" text-anchor="middle" font-size="9.2">.25</text>
<text x="292.92" y="801.8" text-anchor="middle" font-size="9.2">.5</text>
<text x="310.84" y="801.8" text-anchor="middle" font-size="9.2">1</text>
<text x="328.11" y="801.8" text-anchor="middle" font-size="9.2">2</text>
<text x="345.77" y="801.8" text-anchor="middle" font-size="9.2">4</text>
<text x="363.39" y="801.8" text-anchor="middle" font-size="9.2">8</text>
<path d="M268.5 666.8H370.6" stroke="#000" stroke-width="1.7"/>
<polyline points="277.01,671.07 294.02,671.07 311.04,671.07 328.06,672.09 345.07,672.09 362.09,673.2" fill="none" stroke="#333" stroke-width="0.9" stroke-dasharray="1 1"/>
<g fill="#222"><circle cx="277.01" cy="671.07" r="0.8"/><circle cx="294.02" cy="671.07" r="0.8"/><circle cx="311.04" cy="671.07" r="0.8"/><circle cx="328.06" cy="672.09" r="0.8"/><circle cx="345.07" cy="672.09" r="0.8"/><circle cx="362.09" cy="673.2" r="0.8"/></g>
<polyline points="277.01,682.85 294.02,678.21 311.04,678.21 328.06,682.85 345.07,726.54 362.09,738.6" fill="none" stroke="#000" stroke-width="0.9"/>
<g><rect x="274.91" y="680.75" width="4.2" height="4.2"/><rect x="291.92" y="676.11" width="4.2" height="4.2"/><rect x="308.94" y="676.11" width="4.2" height="4.2"/><rect x="325.96" y="680.75" width="4.2" height="4.2"/><rect x="342.97" y="724.44" width="4.2" height="4.2"/><rect x="359.99" y="736.5" width="4.2" height="4.2"/></g>
<polyline points="277.01,675.89 294.02,671.44 311.04,671.44 328.06,720.33 345.07,722.28 362.09,731.83" fill="none" stroke="#000" stroke-width="0.9"/>
<g><path d="M277.01 673.37L279.41 677.69L274.61 677.69Z"/><path d="M294.02 668.92L296.42 673.24L291.62 673.24Z"/><path d="M311.04 668.92L313.44 673.24L308.64 673.24Z"/><path d="M328.06 717.81L330.46 722.13L325.66 722.13Z"/><path d="M345.07 719.76L347.47 724.08L342.68 724.08Z"/><path d="M362.09 729.31L364.49 733.63L359.69 733.63Z"/></g>
<path d="M383.9 666.65H398.6" stroke="#000" stroke-width="0.9"/>
<rect x="389.15" y="664.55" width="4.2" height="4.2"/>
<text x="406" y="670.45" font-size="10.9">8,65 y</text>
<path d="M383.9 681.75H398.6" stroke="#000" stroke-width="0.9"/>
<path d="M391.25 679.23L393.65 683.55L388.85 683.55Z"/>
<text x="406" y="685.55" font-size="10.9">16,33 y</text>
<path d="M383.9 696.45H398.6" stroke="#333" stroke-width="0.9" stroke-dasharray="1 1"/>
<circle cx="391.25" cy="696.45" r="0.9" fill="#222"/>
<text x="406" y="700.25" font-size="10.9">P95 (18 y)</text>
<text x="319.5" y="816.9" text-anchor="middle" font-size="9.2">Frequency (kHz)</text>
<text x="547.3" y="649.6" text-anchor="middle" font-weight="bold" font-size="12.5">ARTA</text>
<rect x="497.6" y="662.2" width="103.1" height="131" fill="none" stroke="#999999" stroke-width="1.45"/>
<path d="M493.1 662.2H497.6M493.1 682.35H497.6M493.1 702.51H497.6M493.1 722.66H497.6M493.1 742.82H497.6M493.1 762.97H497.6M493.1 783.12H497.6M505.4 793.2V797.2M522.8 793.2V797.2M540.3 793.2V797.2M557.5 793.2V797.2M574.6 793.2V797.2M591.8 793.2V797.2" stroke="#3a3a3a" stroke-width="1" fill="none"/>
<text x="488.1" y="665.6" text-anchor="end" font-size="9.2">0</text>
<text x="488.1" y="685.75" text-anchor="end" font-size="9.2">20</text>
<text x="488.1" y="705.91" text-anchor="end" font-size="9.2">40</text>
<text x="488.1" y="726.06" text-anchor="end" font-size="9.2">60</text>
<text x="488.1" y="746.22" text-anchor="end" font-size="9.2">80</text>
<text x="488.1" y="766.37" text-anchor="end" font-size="9.2">100</text>
<text x="488.1" y="786.52" text-anchor="end" font-size="9.2">120</text>
<text x="496.5" y="810.9" text-anchor="middle" font-size="9.2">.25</text>
<text x="514.2" y="810.9" text-anchor="middle" font-size="9.2">.5</text>
<text x="531.7" y="810.9" text-anchor="middle" font-size="9.2">1</text>
<text x="549.5" y="810.9" text-anchor="middle" font-size="9.2">2</text>
<text x="566.6" y="810.9" text-anchor="middle" font-size="9.2">4</text>
<text x="584.1" y="810.9" text-anchor="middle" font-size="9.2">8</text>
<text x="550.8" y="826.8" text-anchor="middle" font-size="9.0">Frequency (kHz)</text>
<defs><clipPath id="ac"><rect x="497.6" y="662.2" width="103.1" height="131"/></clipPath></defs>
<g clip-path="url(#ac)" fill="none" stroke="#111" stroke-width="0.9">
<polyline points="505.4,671 522.8,676.5 540.3,695.1 557.5,707.1 574.6,723 591.8,727.4" stroke-dasharray="3 1.5"/>
<polyline points="505.4,677.1 522.8,684.9 540.3,695.3 557.5,723 574.6,736.9 591.8,759.1"/>
<polyline points="505.4,681 522.8,692.7 540.3,708.4 557.5,730.6 574.6,744.5 591.8,764.8"/>
<polyline points="505.4,684.3 522.8,700 540.3,723.6 557.5,738.8 574.6,751.5 591.8,771.1"/>
<polyline points="505.4,687.9 522.8,707.2 540.3,736.3 557.5,747.7 574.6,758.4 591.8,777.5"/>
<polyline points="505.4,690.9 522.8,713.9 540.3,750.2 557.5,755.9 574.6,766 591.8,783.8"/>
<polyline points="505.4,693.9 522.8,720.5 540.3,763.3 557.5,764.5 574.6,774.3 591.8,789.5"/>
<polyline points="505.4,698.2 522.8,728.3 540.3,777.5 557.5,773.3 574.6,783.2 591.8,797"/>
</g>
<text x="605.9" y="730.6" font-size="6.8" font-style="italic">5</text>
<text x="604.6" y="763.5" font-size="7.4">10</text>
<text x="604.6" y="770.57" font-size="7.4">20</text>
<text x="604.6" y="777.64" font-size="7.4">30</text>
<text x="604.6" y="784.71" font-size="7.4">40</text>
<text x="604.6" y="791.78" font-size="7.4">50</text>
<text x="604.6" y="798.85" font-size="7.4">60</text>
<text x="604.6" y="805.92" font-size="7.4">70</text>
<text transform="translate(627.6 728.3) rotate(-90)" text-anchor="middle" font-size="9.3">Age (years)</text>
<text x="0.2" y="13.8" font-weight="bold" font-size="16">(a)</text>
<text x="468.2" y="651.2" font-weight="bold" font-size="16.4">(b)</text>
</svg>
</body></html>
